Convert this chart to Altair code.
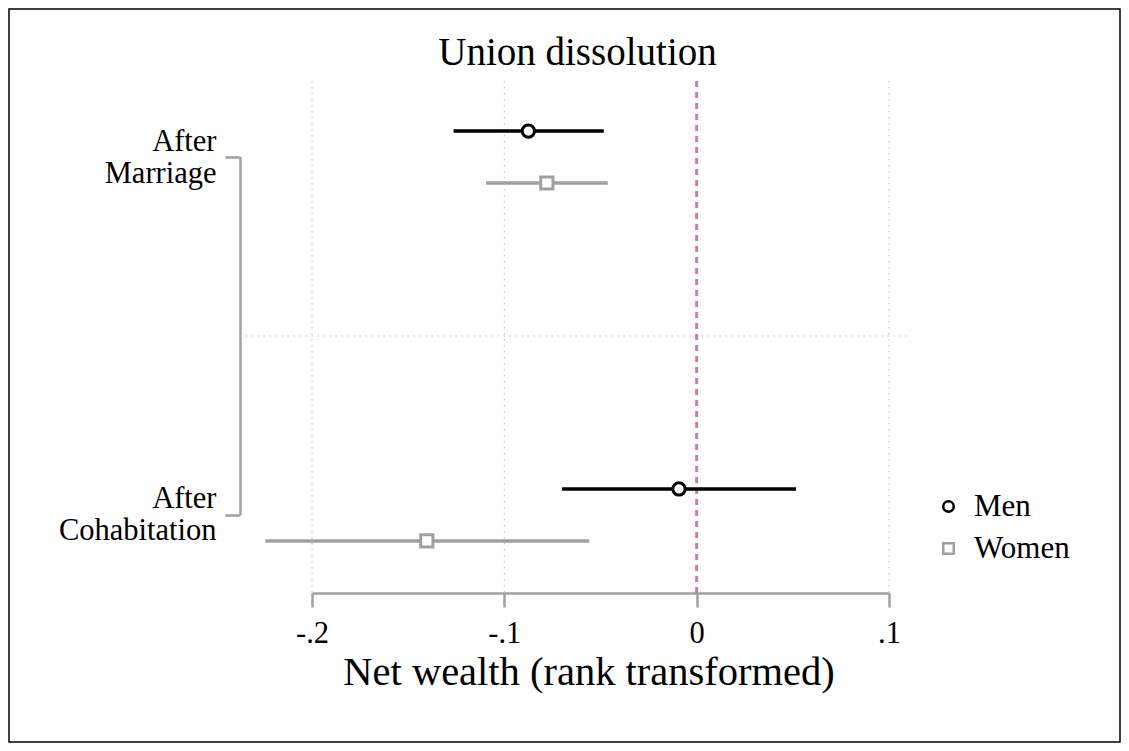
import altair as alt
import pandas as pd

# ---- data ----
groups = ["Men", "Women"]
group_colors = ["#000000", "#a0a0a0"]
categories = ["Marriage", "Cohabitation"]
cat_pos = [2, 1]  # Marriage on top
men_est = [-0.0875, -0.0092]
men_lo = [-0.1264, -0.0700]
men_hi = [-0.0483, 0.0516]
women_est = [-0.0779, -0.1403]
women_lo = [-0.1095, -0.2243]
women_hi = [-0.0462, -0.0559]
x_ticks = [-0.2, -0.1, 0, 0.1]
grid_vals = [-0.2, -0.1, 0.1]

FONT = "Liberation Serif"
GRAY = "#a0a0a0"
OFF = 26 / 358.0

rows = []
for i, c in enumerate(categories):
    rows.append(dict(group="Men", cat=c, est=men_est[i], lo=men_lo[i], hi=men_hi[i],
                     y=cat_pos[i] + OFF))
    rows.append(dict(group="Women", cat=c, est=women_est[i], lo=women_lo[i], hi=women_hi[i],
                     y=cat_pos[i] - OFF))
df = pd.DataFrame(rows)

xscale = alt.Scale(domain=[-0.2, 0.1], nice=False, zero=False)
yscale = alt.Scale(domain=[0.7821, 2.2123], nice=False, zero=False)
color_scale = alt.Scale(domain=groups, range=group_colors)
shape_scale = alt.Scale(domain=groups, range=["circle", "square"])

label_expr = ("datum.value < -0.15 ? '-.2' : datum.value < -0.05 ? '-.1' : "
              "datum.value < 0.05 ? '0' : '.1'")

x_axis = alt.Axis(values=x_ticks, labelExpr=label_expr, grid=False,
                  domainColor=GRAY, domainWidth=2.5, tickColor=GRAY, tickWidth=2.5,
                  tickSize=14, labelFont=FONT, labelFontSize=30.5, labelColor="black",
                  labelBaseline="alphabetic", labelPadding=35, labelFlush=False,
                  title="Net wealth (rank transformed)", titleFont=FONT,
                  titleFontSize=40.5, titleFontWeight="normal", titleColor="black",
                  titleBaseline="alphabetic", titleY=91, titleX=276.5, titleAlign="center")
y_axis = alt.Axis(values=cat_pos, offset=72, domain=False, grid=False,
                  tickColor=GRAY, tickWidth=2.5, tickSize=15,
                  labelExpr="datum.value == 2 ? ['After', 'Marriage'] : ['After', 'Cohabitation']",
                  labelFont=FONT, labelFontSize=30.5, labelColor="black",
                  labelAlign="right", labelBaseline="middle", labelLineHeight=32,
                  labelOffset=-16, labelPadding=9, title=None)
legend = alt.Legend(title=None, orient="none", legendX=621, legendY=410,
                    symbolSize=110, symbolStrokeWidth=2.5,
                    labelFont=FONT, labelFontSize=31, labelColor="black",
                    rowPadding=10, labelOffset=10, padding=0)

base = alt.Chart(df)

grid = alt.Chart(pd.DataFrame({"g": grid_vals})).mark_rule(
    color="#b8b8b8", strokeWidth=1, strokeDash=[1.5, 4.5]
).encode(x=alt.X("g:Q", scale=xscale, axis=x_axis))

hline = alt.Chart(pd.DataFrame({"a": [-0.2346], "b": [0.1118], "m": [1.5]})).mark_rule(
    color="#b8b8b8", strokeWidth=1, strokeDash=[1.5, 4.5]
).encode(x=alt.X("a:Q", scale=xscale, axis=x_axis), x2="b:Q",
         y=alt.Y("m:Q", scale=yscale, axis=y_axis))

zero = alt.Chart(pd.DataFrame({"z": [0]})).mark_rule(
    color="#d07aa8", strokeWidth=3, strokeDash=[6, 5]
).encode(x=alt.X("z:Q", scale=xscale, axis=x_axis))

bracket = alt.Chart(pd.DataFrame({"bx": [-0.2372], "y1": [cat_pos[0]], "y2": [cat_pos[1]]})).mark_rule(
    color=GRAY, strokeWidth=2.5
).encode(x=alt.X("bx:Q", scale=xscale, axis=x_axis),
         y=alt.Y("y1:Q", scale=yscale, axis=y_axis), y2="y2:Q")

ci_layers = []
for g, col in zip(groups, group_colors):
    ci_layers.append(
        base.transform_filter(alt.datum.group == g).mark_rule(strokeWidth=3.5, color=col).encode(
            x=alt.X("lo:Q", scale=xscale, axis=x_axis),
            x2="hi:Q",
            y=alt.Y("y:Q", scale=yscale, axis=y_axis),
        )
    )

pts = base.mark_point(filled=False, strokeWidth=3, size=150, opacity=1, fill="white", fillOpacity=1).encode(
    x=alt.X("est:Q", scale=xscale, axis=x_axis),
    y=alt.Y("y:Q", scale=yscale, axis=y_axis),
    color=alt.Color("group:N", scale=color_scale, legend=legend),
    shape=alt.Shape("group:N", scale=shape_scale, legend=legend),
)

frame = alt.Chart(pd.DataFrame({"f": [0]})).mark_rect(
    filled=False, stroke="black", strokeWidth=1.5
).encode(x=alt.value(-303), x2=alt.value(808), y=alt.value(-72), y2=alt.value(661))

chart = alt.layer(grid, hline, zero, bracket, *ci_layers, pts, frame).properties(
    width=577, height=512,
    padding={"left": 304, "top": 73, "right": 232, "bottom": 150},
    autosize=alt.AutoSizeParams(type="none"),
    title=alt.TitleParams("Union dissolution", font=FONT, fontSize=39, fontWeight="normal",
                          color="black", anchor="middle", frame="group", dx=-23,
                          baseline="alphabetic", offset=-96),
    background="white",
).configure_view(stroke=None)

chart.save("out.html", embed_options={"renderer": "svg", "actions": False})
